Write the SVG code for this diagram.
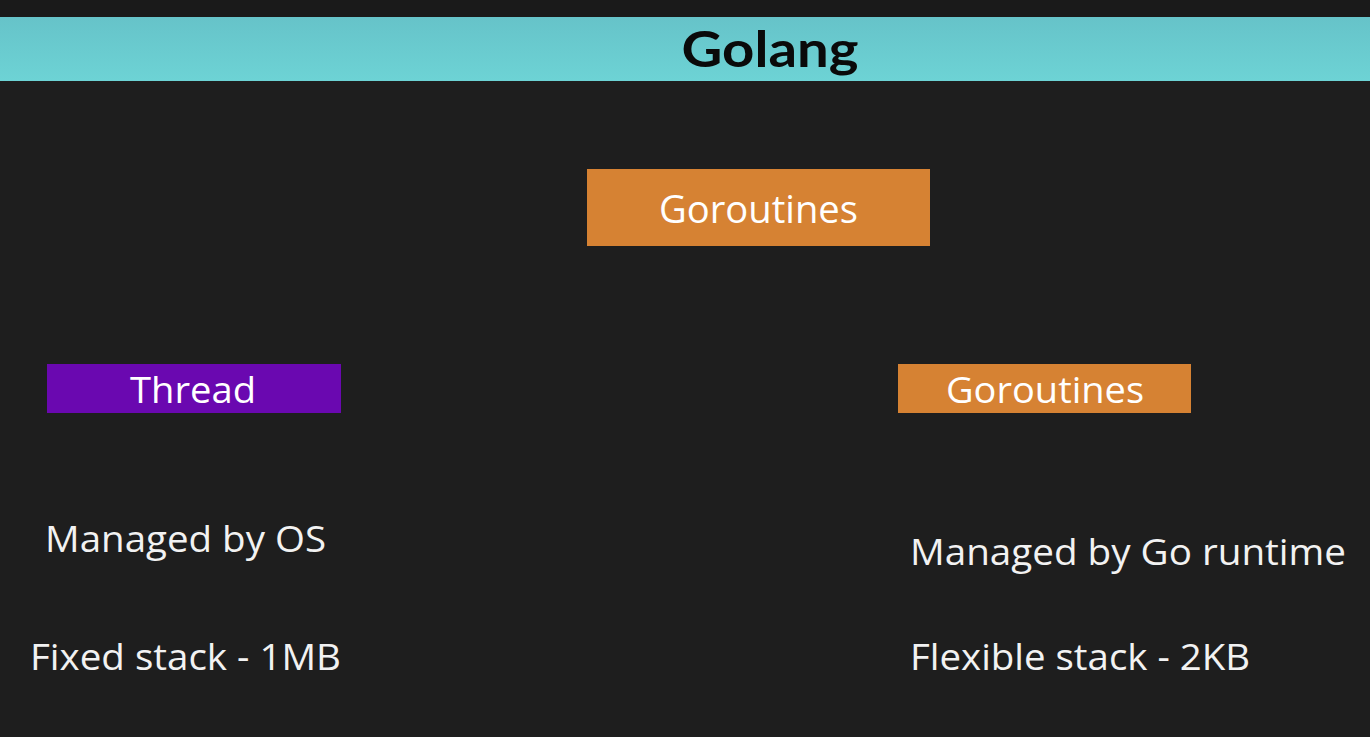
<svg xmlns="http://www.w3.org/2000/svg" width="1370" height="737" viewBox="0 0 1370 737">
  <style>
    .label { font-family: "Open Sans", "Noto Sans", "Liberation Sans", sans-serif; fill: #ffffff; }
    .note { font-family: "Open Sans", "Noto Sans", "Liberation Sans", sans-serif; fill: #f2f2f2; font-size: 37px; }
    .title { font-family: "Lato", "Noto Sans", "Liberation Sans", sans-serif; font-weight: bold; fill: #0a0a0a; font-size: 50px; }
  </style>
  <defs>
    <linearGradient id="band" x1="0" y1="0" x2="0" y2="1">
      <stop offset="0" stop-color="#66c3c9"/>
      <stop offset="1" stop-color="#6dd3d5"/>
    </linearGradient>
  </defs>

  <!-- backdrop -->
  <rect x="0" y="0" width="1370" height="737" fill="#1e1e1e"/>
  <rect x="0" y="0" width="1370" height="17" fill="#1a1a1a"/>

  <!-- header band -->
  <g id="header">
    <rect x="0" y="17" width="1370" height="64" fill="url(#band)"/>
    <text class="title" x="770" y="67" text-anchor="middle" textLength="177" lengthAdjust="spacingAndGlyphs">Golang</text>
  </g>

  <g id="connectors"></g>

  <g id="goroutines-top">
    <rect x="587" y="169" width="343" height="77" fill="#d68233"/>
    <text class="label" x="758.5" y="223" font-size="38" text-anchor="middle" textLength="199" lengthAdjust="spacingAndGlyphs">Goroutines</text>
  </g>

  <g id="thread">
    <rect x="47" y="364" width="294" height="49" fill="#6a08b0"/>
    <text class="label" x="193" y="403" font-size="37" text-anchor="middle" textLength="126" lengthAdjust="spacingAndGlyphs">Thread</text>
  </g>

  <g id="goroutines-right">
    <rect x="898" y="364" width="293" height="49" fill="#d68233"/>
    <text class="label" x="1045" y="403" font-size="37" text-anchor="middle" textLength="198" lengthAdjust="spacingAndGlyphs">Goroutines</text>
  </g>

  <g id="thread-notes">
    <text class="note" x="45" y="552" textLength="281" lengthAdjust="spacingAndGlyphs">Managed by OS</text>
    <text class="note" x="30" y="670" textLength="311" lengthAdjust="spacingAndGlyphs">Fixed stack - 1MB</text>
  </g>

  <g id="goroutine-notes">
    <text class="note" x="910" y="565" textLength="436" lengthAdjust="spacingAndGlyphs">Managed by Go runtime</text>
    <text class="note" x="910" y="670" textLength="340" lengthAdjust="spacingAndGlyphs">Flexible stack - 2KB</text>
  </g>
</svg>
